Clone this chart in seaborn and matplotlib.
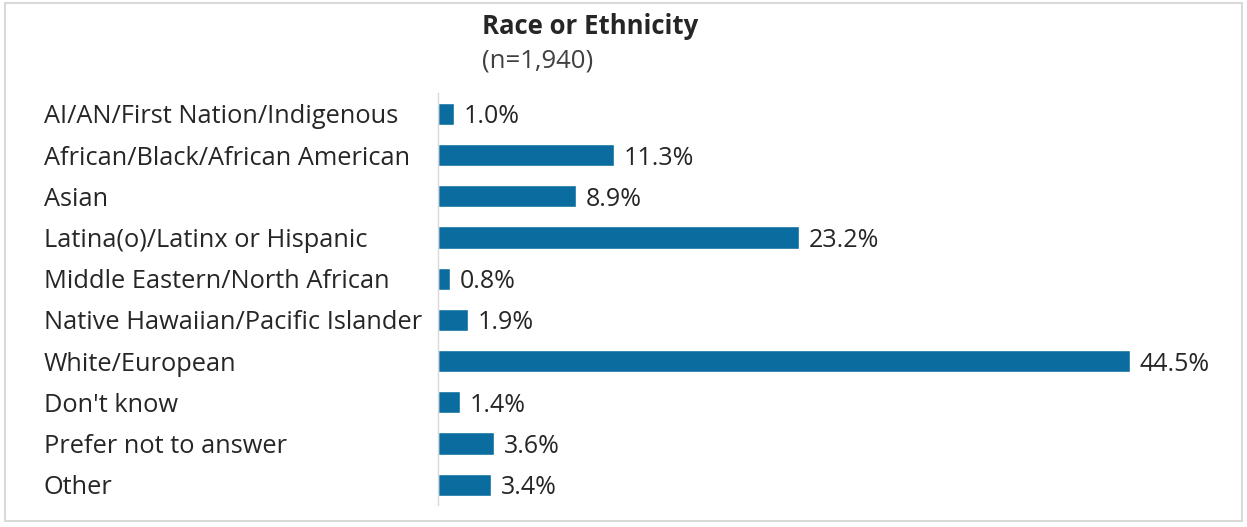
import matplotlib
matplotlib.use("Agg")
import matplotlib.pyplot as plt
import seaborn as sns
import pandas as pd
from matplotlib.patches import Rectangle

# data
categories = [
    "AI/AN/First Nation/Indigenous",
    "African/Black/African American",
    "Asian",
    "Latina(o)/Latinx or Hispanic",
    "Middle Eastern/North African",
    "Native Hawaiian/Pacific Islander",
    "White/European",
    "Don't know",
    "Prefer not to answer",
    "Other",
]
percents = [1.0, 11.3, 8.9, 23.2, 0.8, 1.9, 44.5, 1.4, 3.6, 3.4]

df = pd.DataFrame({"Race": categories, "Percent": percents})

sns.set_style("white")
plt.rcParams["font.family"] = ["Open Sans", "DejaVu Sans"]

fig = plt.figure(figsize=(12.47, 5.27), dpi=100)
ax = fig.add_axes([0.3512, 0.041, 0.62, 0.782])

sns.barplot(data=df, x="Percent", y="Race", color="#0b6d9f",
            width=0.54, saturation=1, ax=ax)

ax.set_xlim(0, 49.7)
ax.set_ylim(9.5, -0.5)
ax.set_xlabel("")
ax.set_ylabel("")
ax.set_xticks([])

for s in ["top", "right", "bottom"]:
    ax.spines[s].set_visible(False)
ax.spines["left"].set_color("#d9d9d9")
ax.spines["left"].set_linewidth(1)

ax.tick_params(axis="y", length=0, pad=284, labelsize=18.3, labelcolor="#262626")
for lbl in ax.get_yticklabels():
    lbl.set_horizontalalignment("left")

texts = ax.bar_label(ax.containers[0], labels=[f"{v:.1f}%" for v in percents],
                     padding=7, fontsize=18, color="#262626")
for t in texts:
    t.set_verticalalignment("center_baseline")

fig.text(0.3865, 0.950, "Race or Ethnicity", fontsize=18.5, fontweight="bold",
         color="#262626", ha="left", va="center")
fig.text(0.3865, 0.885, "(n=1,940)", fontsize=18.5, color="#404040",
         ha="left", va="center")

# light border around chart area
fig.patches.append(Rectangle((0.004, 0.012), 0.992, 0.982, transform=fig.transFigure,
                             fill=False, edgecolor="#d9d9d9", linewidth=1.5))

fig.savefig("out.png", dpi=100)
